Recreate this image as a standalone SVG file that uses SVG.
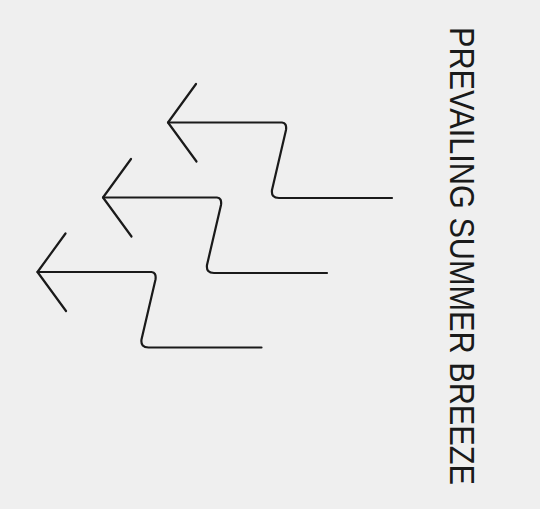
<svg xmlns="http://www.w3.org/2000/svg" width="540" height="509" viewBox="0 0 540 509">
<style>
.a{fill:none;stroke:#1a1a1a;stroke-width:2.2;stroke-linecap:round;stroke-linejoin:round}
.t{font-family:"Liberation Sans",Arial,sans-serif;font-size:35px;fill:#1a1a1a}
</style>
<defs>
<g id="zig">
<path class="a" d="M0,0 H114 Q119,0.5 118,7.5 L104,67.5 Q103,75.5 111,75.5 H224"/>
<path class="a" d="M28,-38.5 L0,0 L28.5,39"/>
</g>
</defs>
<rect width="540" height="509" fill="#efefef"/>
<g id="connectors">
<g id="arrow1"><use href="#zig" transform="translate(168,122.5)"/></g>
<g id="arrow2"><use href="#zig" transform="translate(103,197.5)"/></g>
<g id="arrow3"><use href="#zig" transform="translate(37.5,272)"/></g>
</g>
<g id="label">
<text class="t" transform="translate(450,27) rotate(90)" x="0" y="0" textLength="458" lengthAdjust="spacingAndGlyphs">PREVAILING SUMMER BREEZE</text>
</g>
</svg>
